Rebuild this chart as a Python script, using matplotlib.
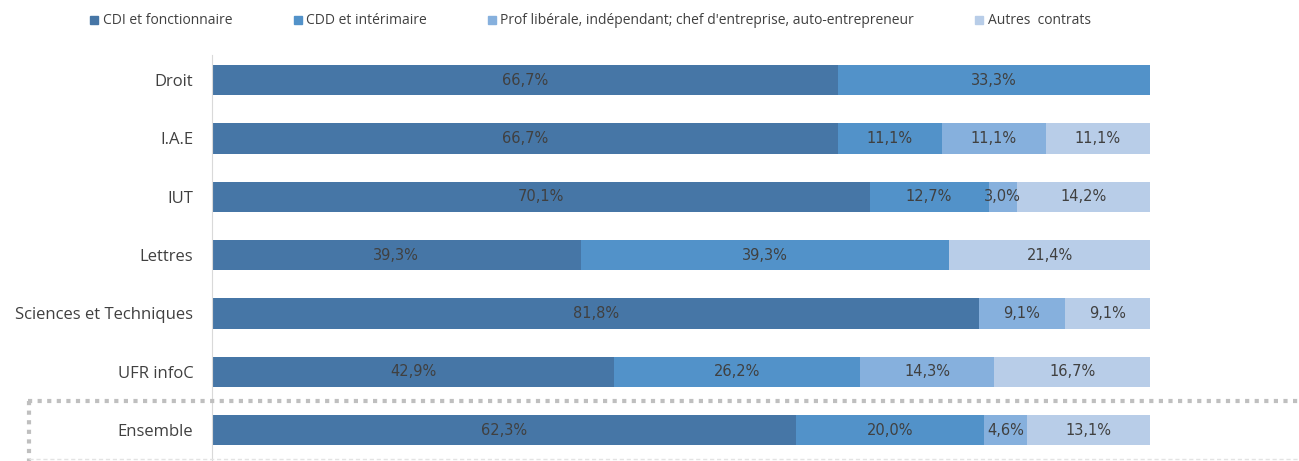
import matplotlib.pyplot as plt
import numpy as np
from matplotlib.lines import Line2D

categories = ['Droit', 'I.A.E', 'IUT', 'Lettres', 'Sciences et Techniques', 'UFR infoC', 'Ensemble']
series = ['CDI et fonctionnaire', 'CDD et intérimaire',
          "Prof libérale, indépendant; chef d'entreprise, auto-entrepreneur", 'Autres  contrats']
cdi = [66.7, 66.7, 70.1, 39.3, 81.8, 42.9, 62.3]
cdd = [33.3, 11.1, 12.7, 39.3, 0.0, 26.2, 20.0]
prof = [0.0, 11.1, 3.0, 0.0, 9.1, 14.3, 4.6]
autres = [0.0, 11.1, 14.2, 21.4, 9.1, 16.7, 13.1]
colors = ['#4676a6', '#5292c9', '#86b0dd', '#b8cde8']

plt.rcParams['font.family'] = ['Open Sans', 'DejaVu Sans']
fig = plt.figure(figsize=(12.99, 4.61), dpi=100)
ax = fig.add_axes([212 / 1299, 0, (1150 - 212) / 1299, 1 - 55 / 461])

y = np.arange(len(categories))
left = np.zeros(len(categories))
for vals, col, name in zip([cdi, cdd, prof, autres], colors, series):
    vals = np.array(vals)
    ax.barh(y, vals, left=left, height=0.52, color=col, label=name)
    for yi, l, v in zip(y, left, vals):
        if v > 0:
            ax.text(l + v / 2, yi, f'{v:.1f}%'.replace('.', ','), ha='center', va='center',
                    fontsize=10.5, color='#404040', family='DejaVu Sans')
    left += vals

ax.set_xlim(0, 100)
ax.set_ylim(len(categories) - 0.47, -0.43)
ax.set_yticks(y)
ax.set_yticklabels(categories, fontsize=12, color='#404040')
ax.tick_params(axis='y', length=0, pad=13.5)
ax.set_xticks([])
for s in ['top', 'right', 'bottom']:
    ax.spines[s].set_visible(False)
ax.spines['left'].set_color('#d9d9d9')
ax.set_facecolor('none')

# dotted frame around "Ensemble"
fig.add_artist(Line2D([28 / 1299, 1], [1 - 401 / 461] * 2, transform=fig.transFigure,
                      color='#bfbfbf', lw=3, linestyle=(0, (1, 1.3))))
fig.add_artist(Line2D([29 / 1299] * 2, [1 - 401 / 461, 0], transform=fig.transFigure,
                      color='#bfbfbf', lw=3, linestyle=(0, (1, 1.3))))
fig.add_artist(Line2D([29 / 1299, 1], [1 - 459 / 461] * 2, transform=fig.transFigure,
                      color='#e3e3e3', lw=1, linestyle=(0, (3, 2))))

handles = [Line2D([], [], marker='s', linestyle='', color=c, markersize=6) for c in colors]
fig.legend(handles, series, loc='center', bbox_to_anchor=(589 / 1299, 1 - 21 / 461), ncol=4,
           frameon=False, fontsize=10, handletextpad=0.1, columnspacing=4.2,
           labelcolor='#404040', handlelength=1)

fig.savefig('out.png', dpi=100)
